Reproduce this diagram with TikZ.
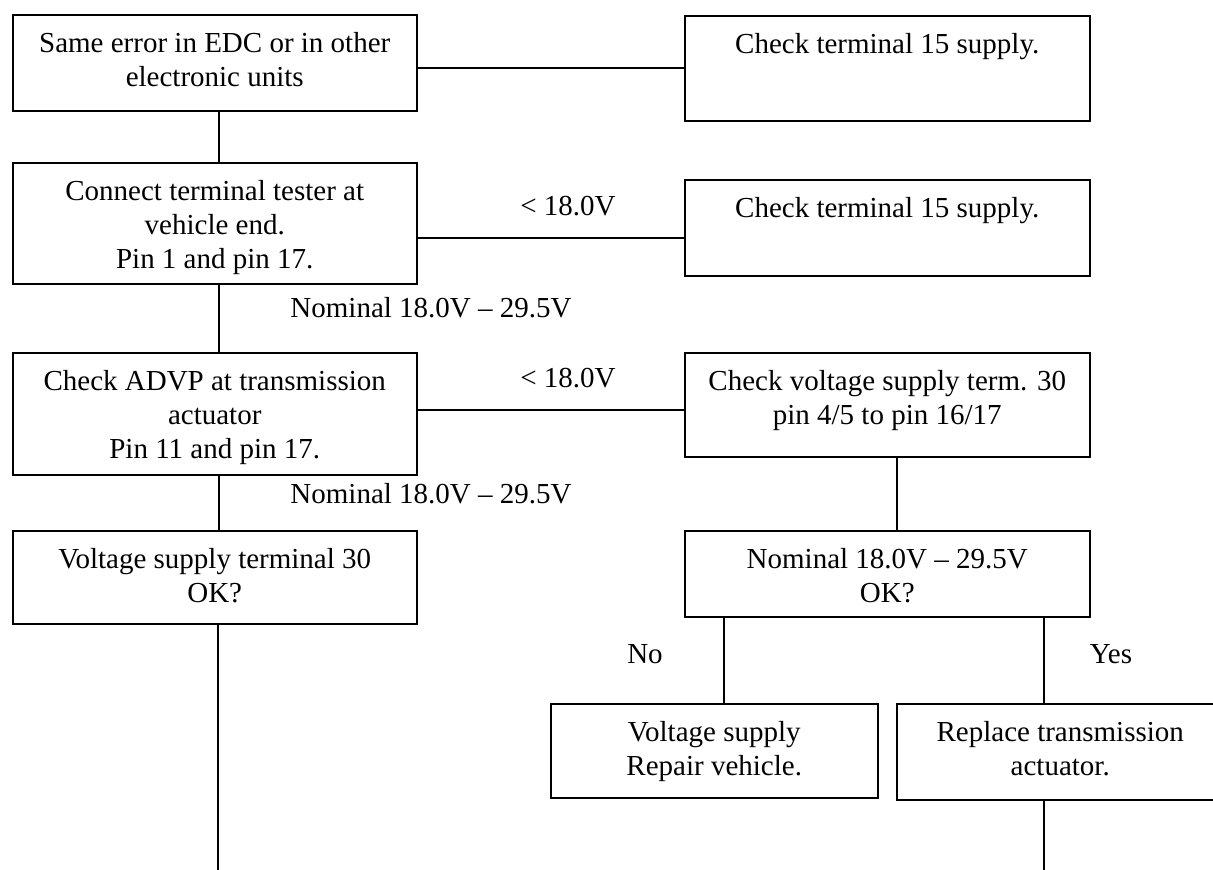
\documentclass[tikz,border=0pt]{standalone}
\usepackage{fontspec}
\setmainfont{Liberation Serif}
\newcommand\bxt[3]{\parbox[t][#2][t]{#1}{\centering\vspace*{14pt}\strut #3}}
\begin{document}
\begin{tikzpicture}[x=1pt,y=-1pt,
  every node/.style={font=\fontsize{29}{34}\selectfont},
  box/.style={draw, line width=1.5pt, inner sep=0pt, anchor=north west, align=center},
  conn/.style={line width=1.5pt},
  lbl/.style={anchor=base, inner sep=0pt}]
\useasboundingbox (0,0) rectangle (1213,870);
\clip (0,0) rectangle (1213,870);
% boxes
\node[box] (b1) at (12,14) {\bxt{404pt}{96pt}{Same error in EDC or in other\\electronic units}};
\node[box] (b2) at (684,15) {\bxt{405pt}{105pt}{Check terminal 15 supply.}};
\node[box] (b3) at (12,162) {\bxt{404pt}{121pt}{Connect terminal tester at\\vehicle end.\\Pin 1 and pin 17.}};
\node[box] (b4) at (684,179) {\bxt{405pt}{96pt}{Check terminal 15 supply.}};
\node[box] (b5) at (12,352) {\bxt{404pt}{122pt}{Check ADVP at transmission\\actuator\\Pin 11 and pin 17.}};
\node[box] (b6) at (684,352) {\bxt{405pt}{104pt}{Check voltage supply term. 30\\pin 4/5 to pin 16/17}};
\node[box] (b7) at (12,530) {\bxt{404pt}{93pt}{Voltage supply terminal 30\\OK?}};
\node[box] (b8) at (684,530) {\bxt{405pt}{86pt}{Nominal 18.0V -- 29.5V\\OK?}};
\node[box] (b9) at (550,703) {\bxt{327pt}{94pt}{Voltage supply\\Repair vehicle.}};
\node[box] (b10) at (896,703) {\bxt{327pt}{96pt}{Replace transmission\\actuator.}};
% end coordinates
\coordinate (e1) at (218,872);
\coordinate (e2) at (1044,872);
% connectors
\draw[conn] ([yshift=0.5pt]b1.east |- b2.west) -- ([yshift=0.5pt]b2.west);
\draw[conn] ([xshift=4pt]b1.south) -- ([xshift=4pt]b3.north);
\draw[conn] ([yshift=-10pt]b4.west) -- ([yshift=-10pt]b4.west -| b3.east);
\draw[conn] ([xshift=4pt]b3.south) -- ([xshift=4pt]b5.north);
\draw[conn] ([yshift=-5pt]b6.west) -- ([yshift=-5pt]b6.west -| b5.east);
\draw[conn] ([xshift=4pt]b5.south) -- ([xshift=4pt]b7.north);
\draw[conn] (e1 |- b7.south) -- (e1);
\draw[conn] ([xshift=9.5pt]b6.south) -- ([xshift=9.5pt]b6.south |- b8.north);
\draw[conn] ([xshift=9.5pt]b9.north) -- ([xshift=9.5pt]b9.north |- b8.south);
\draw[conn] (e2 |- b8.south) -- (e2 |- b10.north);
\draw[conn] (e2 |- b10.south) -- (e2);
% labels
\node[lbl] (l1) at (568,215) {< 18.0V};
\node[lbl] (l2) at (431,317) {Nominal 18.0V -- 29.5V};
\node[lbl] (l3) at (568,387) {< 18.0V};
\node[lbl] (l4) at (431,503) {Nominal 18.0V -- 29.5V};
\node[lbl] (l5) at (645,663) {No};
\node[lbl] (l6) at (1111,663) {Yes};
\end{tikzpicture}
\end{document}
